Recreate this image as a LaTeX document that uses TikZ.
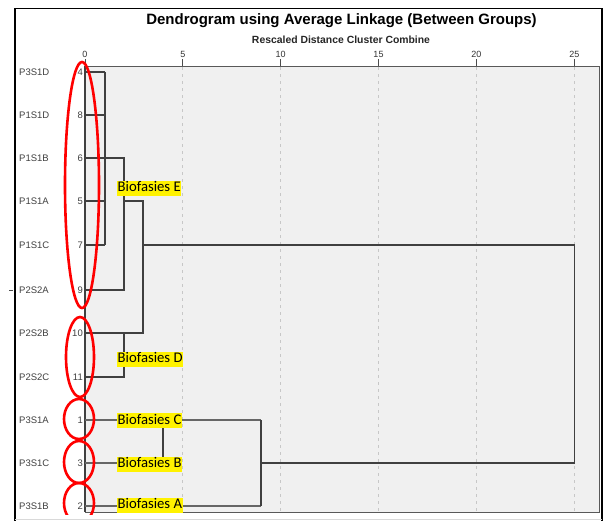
\documentclass[tikz,border=0pt]{standalone}
\usepackage{fontspec}
\setmainfont{Liberation Sans}
\newfontfamily\calib{Carlito}
\begin{document}
\begin{tikzpicture}[x=1pt,y=-1pt,
  lbl/.style={anchor=west,inner sep=0,font=\fontsize{9.5}{10}\selectfont,text=black!75},
  num/.style={anchor=east,inner sep=0,font=\fontsize{9.5}{10}\selectfont,text=black!75},
  tck/.style={anchor=south,inner sep=0,font=\fontsize{9}{10}\selectfont,text=black!80},
  den/.style={draw=black!75,line width=1.3pt},
  dlight/.style={draw=black!60,line width=1.5pt},
  grid/.style={draw=black!22,line width=0.8pt,dash pattern=on 3pt off 4pt},
  oval/.style={draw=red,line width=2.6pt},
  bio/.style={anchor=west,fill=yellow,inner xsep=0.5pt,inner ysep=0pt,text height=11pt,text depth=4pt,font=\calib\fontsize{14.7}{15}\selectfont}]
\useasboundingbox (0,0) rectangle (605,520);
\fill[white] (0,0) rectangle (605,520);
% outer frame
\draw[black,line width=1.6pt] (15,521) -- (15,8.5) -- (602,8.5) -- (602,521);
\draw[black!15,line width=1pt] (15,519) -- (602,519);
% titles
\node[inner sep=0,font=\bfseries\fontsize{15}{16}\selectfont] (title) at (341.5,20.5) {Dendrogram using Average Linkage (Between Groups)};
\node[inner sep=0,font=\bfseries\fontsize{10.4}{11}\selectfont,text=black!85] (sub) at (341,39.5) {Rescaled Distance Cluster Combine};
% plot area
\fill[black!6] (85,66) rectangle (599,512);
\draw[black!65,line width=1pt] (85,66) -- (599,66) -- (599,512) -- (85,512);
\foreach \v/\xx in {5/182.8,10/280.7,15/378.5,20/476.4,25/574.3} {
  \draw[grid] (\xx,67) -- (\xx,511);
}
\foreach \v/\xx in {0/85,5/182.8,10/280.7,15/378.5,20/476.4,25/574.3} {
  \draw[black!70,line width=1pt] (\xx,59) -- (\xx,66);
  \node[tck] (t\v) at (\xx,57.5) {\v};
}
% rows
\foreach \nm/\id/\yy in {P3S1D/4/72,P1S1D/8/115,P1S1B/6/158,P1S1A/5/201,P1S1C/7/245,P2S2A/9/290,P2S2B/10/333,P2S2C/11/377,P3S1A/1/420,P3S1C/3/463,P3S1B/2/506} {
  \node[lbl] (l\id) at (19,\yy) {\nm};
  \node[num] (n\id) at (83,\yy) {\id};
  \coordinate (r\id) at (85,\yy);
}
\draw[black!70,line width=1pt] (9,290) -- (13,290);
% join coordinates
\coordinate (j1a) at (105,72);  \coordinate (j1b) at (105,245);
\coordinate (j2a) at (124,158); \coordinate (j2b) at (124,290);
\coordinate (j3a) at (143,201); \coordinate (j3b) at (143,333);
\coordinate (j4a) at (124,333); \coordinate (j4b) at (124,377);
\coordinate (j5a) at (163,420); \coordinate (j5b) at (163,463);
\coordinate (j6a) at (261,420); \coordinate (j6b) at (261,506);
\coordinate (j7a) at (574.3,245); \coordinate (j7b) at (574.3,463);
% axis line
\draw[black!75,line width=1.3pt] (85,66) -- (85,512);
% dendrogram
\draw[den] (r4) -- (r4 -| j1a);
\draw[den] (r8) -- (r8 -| j1a);
\draw[den] (r5) -- (r5 -| j1a);
\draw[den] (r7) -- (r7 -| j1a);
\draw[den] (j1a) -- (j1b);
\draw[den] (r6) -- (j2a) -- (j2b) -- (r9);
\draw[den] (r5 -| j2a) -- (j3a) -- (j3b) -- (r10);
\draw[den] (j4a) -- (j4b) -- (r11);
\draw[den] (r7 -| j3a) -- (j7a) -- (j7b) -- (r3 -| j6a);
\draw[dlight] (r1) -- (j6a);
\draw[dlight] (r3) -- (j5b);
\draw[dlight] (r2) -- (j6b);
\draw[den] (j6a) -- (j6b);
\draw[den] (j5a) -- (j5b);
% ovals
\begin{scope}
\clip (0,0) rectangle (605,514.5);
\draw[oval] (82,185) ellipse [x radius=17, y radius=123];
\draw[oval] (80,357) ellipse [x radius=14, y radius=40];
\draw[oval] (79,419) ellipse [x radius=15, y radius=20];
\draw[oval] (79,462) ellipse [x radius=15, y radius=21];
\draw[oval] (79,503) ellipse [x radius=15, y radius=20];
\end{scope}
% biofasies labels
\node[bio] (bE) at (117,188) {Biofasies E};
\node[bio] (bD) at (117,359) {Biofasies D};
\node[bio] (bC) at (117,420.5) {Biofasies C};
\node[bio] (bB) at (117,464) {Biofasies B};
\node[bio] (bA) at (117,505) {Biofasies A};
\end{tikzpicture}
\end{document}
